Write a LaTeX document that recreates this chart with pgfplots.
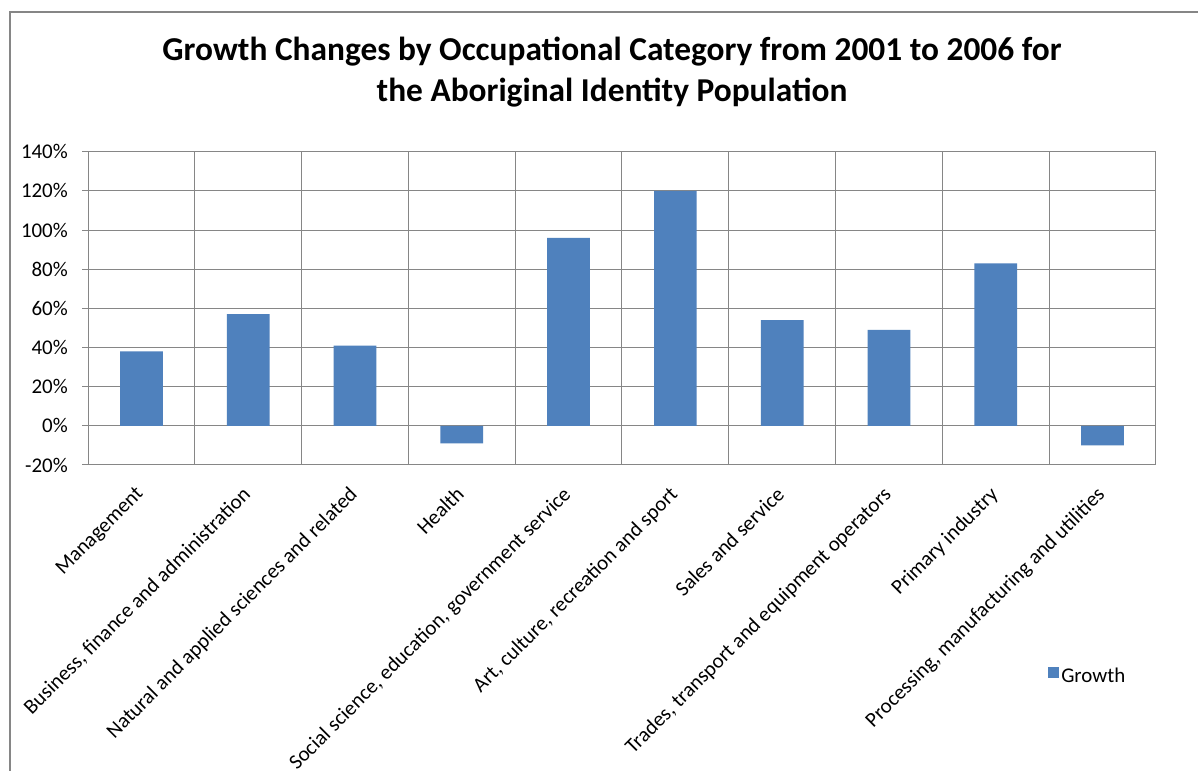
\documentclass[border=0pt]{standalone}
\usepackage{fontspec}
\setmainfont{Carlito}
\usepackage{pgfplots}
\pgfplotsset{compat=1.18}
\definecolor{barblue}{RGB}{79,129,189}
\definecolor{gridgray}{RGB}{134,134,134}
\begin{document}
\begin{tikzpicture}[x=1bp,y=1bp]
\useasboundingbox (0,0) rectangle (1198,771);
\fill[white] (0,0) rectangle (1198,771);
\draw[gridgray, line width=2bp] (10,0) -- (10,759) -- (1198,759);
\node[anchor=base, inner sep=0pt, font=\fontsize{33.5}{40}\selectfont\bfseries] at (612,710) {Growth Changes by Occupational Category from 2001 to 2006 for};
\node[anchor=base, inner sep=0pt, font=\fontsize{33.5}{40}\selectfont\bfseries] at (612,669) {the Aboriginal Identity Population};
\begin{axis}[
  at={(88bp,306bp)}, anchor=south west, scale only axis,
  width=1068bp, height=313.3bp,
  xmin=-0.5, xmax=9.5, ymin=-20, ymax=140,
  ybar, bar width=0.4,
  xtick={0,...,9},
  xticklabels={Management, {Business, finance and administration}, Natural and applied sciences and related, Health, {Social science, education, government service}, {Art, culture, recreation and sport}, Sales and service, {Trades, transport and equipment operators}, Primary industry, {Processing, manufacturing and utilities}},
  xticklabel style={xshift=-7bp, yshift=-10bp, rotate=45, anchor=north east, font=\fontsize{21}{25}\selectfont, inner sep=3bp},
  x tick style={draw=none},
  minor xtick={-0.5,0.5,...,9.5},
  xminorgrids,
  minor x grid style={gridgray, line width=1bp},
  ytick={-20,0,20,40,60,80,100,120,140},
  yticklabels={-20\%,0\%,20\%,40\%,60\%,80\%,100\%,120\%,140\%},
  yticklabel style={font=\fontsize{21}{25}\selectfont, inner sep=4bp, xshift=-10bp},
  ytick pos=left,
  ymajorgrids,
  major y grid style={gridgray, line width=1bp},
  y tick style={gridgray, line width=1bp},
  tick align=outside, major tick length=6bp,
  axis line style={gridgray, line width=1bp},
  legend style={at={(0.899,-0.672)}, anchor=west, draw=none, fill=none, font=\fontsize{21}{25}\selectfont, inner sep=0pt},
  legend image code/.code={\fill[barblue] (0bp,-2bp) rectangle (11bp,9bp);},
]
\addplot[fill=barblue, draw=none] coordinates {(0,38) (1,57) (2,41) (3,-9) (4,96) (5,120) (6,54) (7,49) (8,83) (9,-10)};
\addlegendentry{Growth}
\end{axis}
\end{tikzpicture}
\end{document}
